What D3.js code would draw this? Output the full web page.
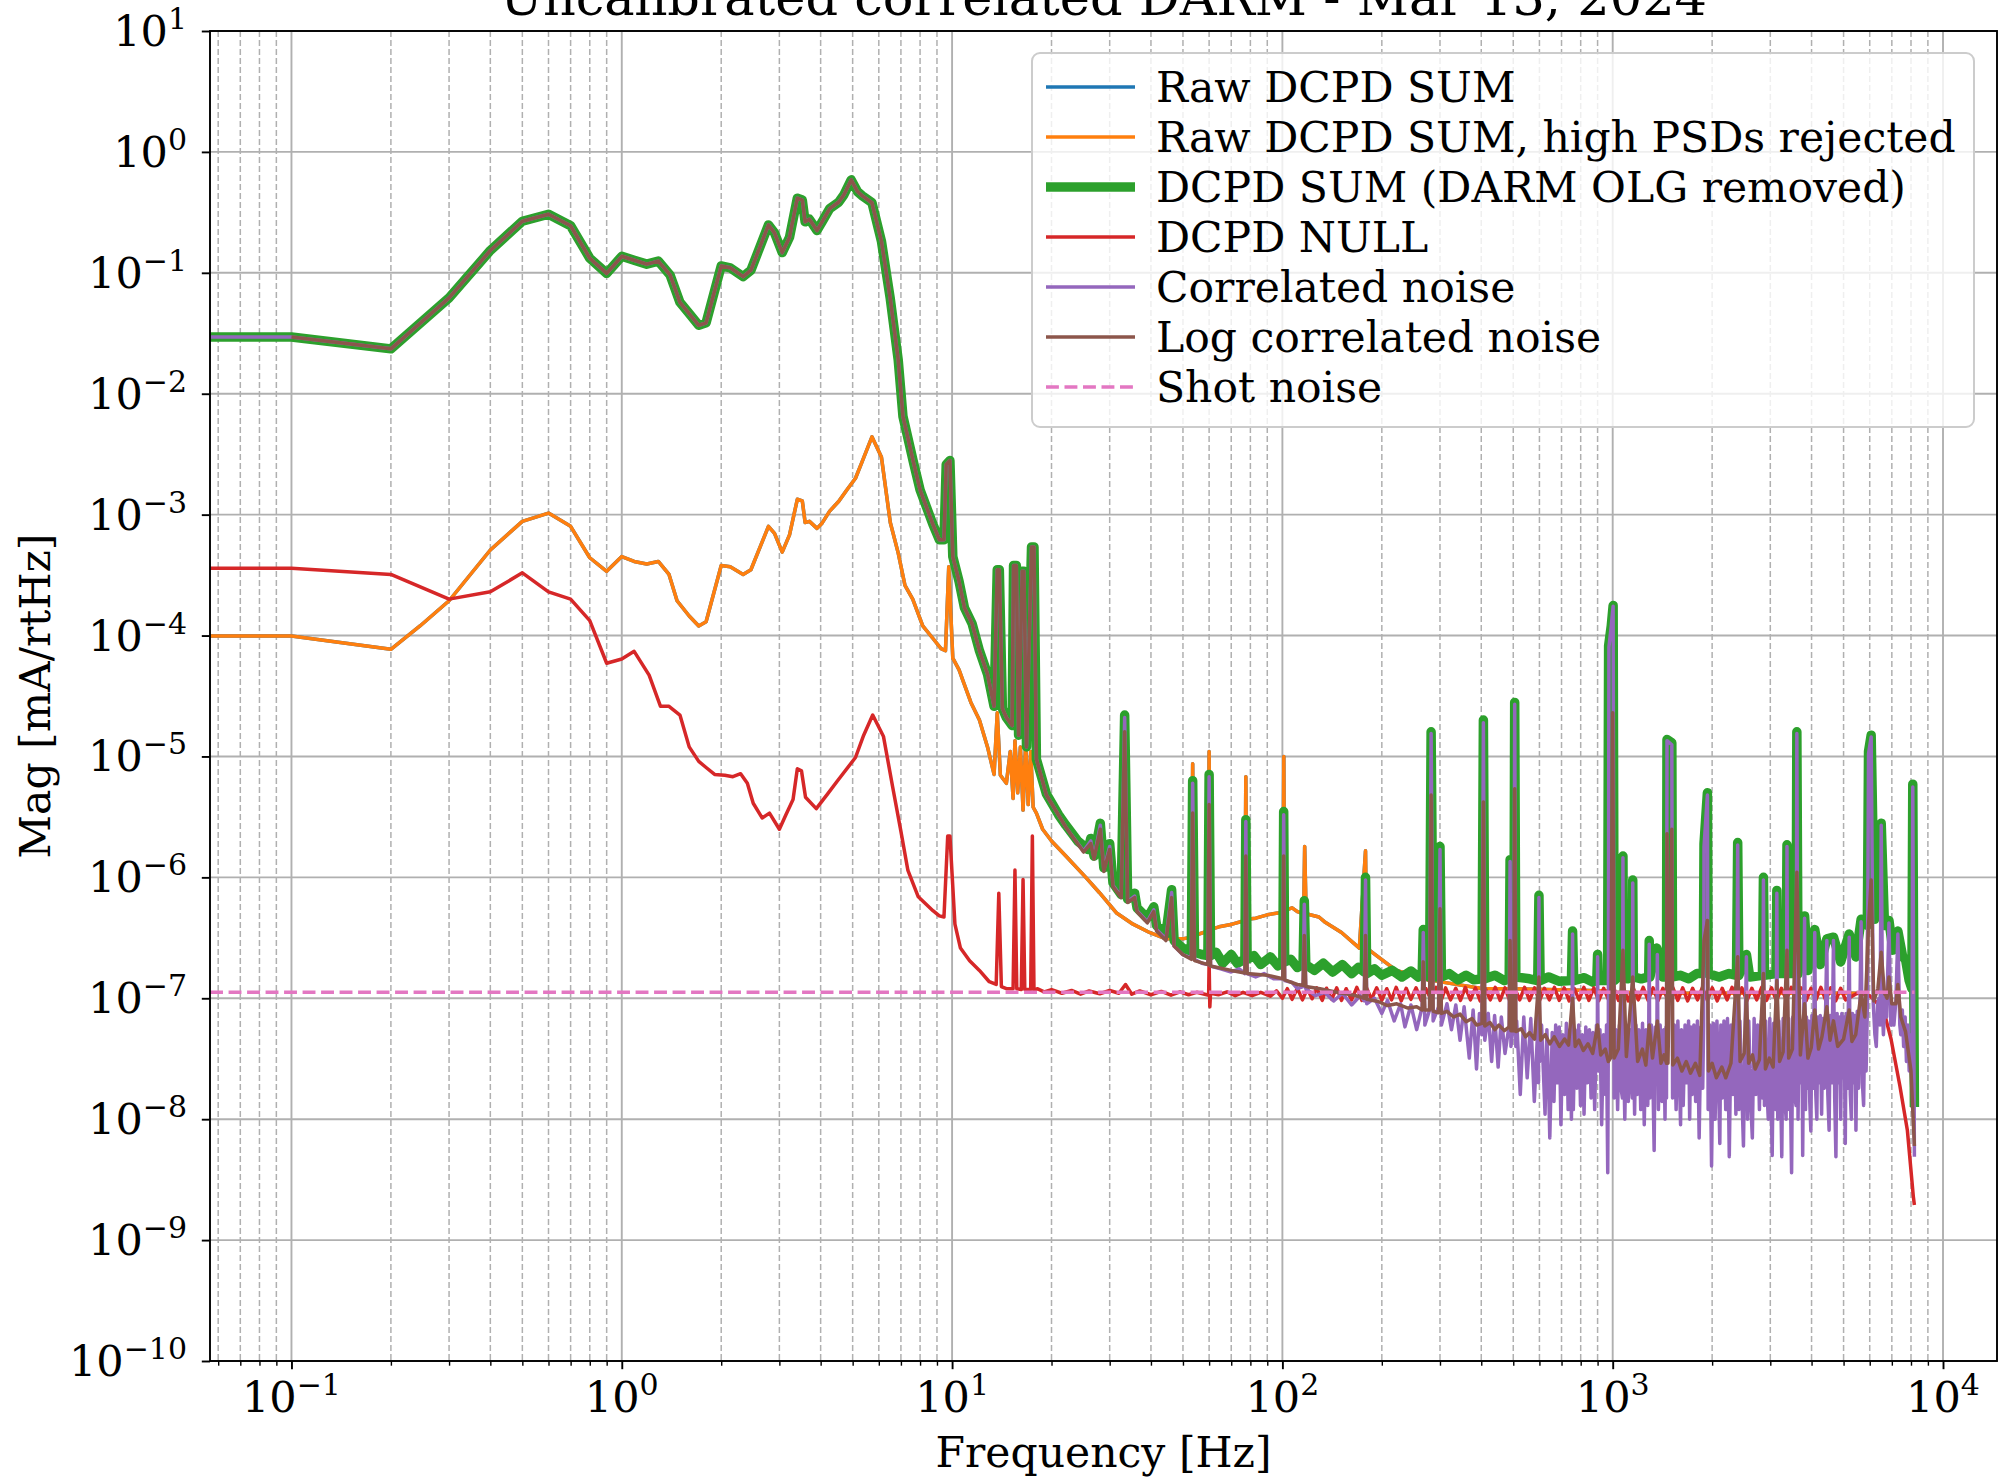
<!DOCTYPE html>
<html>
<head>
<meta charset="utf-8">
<title>Uncalibrated correlated DARM</title>
<script src="https://d3js.org/d3.v7.min.js"></script>
<style>
  body { margin: 0; background: #fff; }
  text { font-family: "DejaVu Serif", serif; fill: #000; }
  .grid-major line { stroke: #b0b0b0; stroke-width: 1.9; }
  .grid-minor line { stroke: #b0b0b0; stroke-width: 1.5; stroke-dasharray: 6,3; }
  .axis path { display: none; }
  .axis line { stroke: #000; }
  .series { fill: none; stroke-linejoin: round; }
</style>
</head>
<body>
<svg id="chart" width="1999" height="1477"></svg>
<script>
// ---- data: [frequency Hz, magnitude mA/rtHz] ----
var xTickExps = [-1, 0, 1, 2, 3, 4];
var yTickExps = [1, 0, -1, -2, -3, -4, -5, -6, -7, -8, -9, -10];

var seriesNames = ["Raw DCPD SUM", "Raw DCPD SUM, high PSDs rejected", "DCPD SUM (DARM OLG removed)",
                   "DCPD NULL", "Correlated noise", "Log correlated noise", "Shot noise"];

// DCPD SUM below ~18 Hz (shared by the correlated noise traces, which sit on it there)
var sumLow = [
  [0.0567,0.0295],[0.1,0.0295],[0.2,0.0235],[0.3,0.062],[0.4,0.153],[0.5,0.267],[0.6,0.305],
  [0.7,0.245],[0.8,0.132],[0.9,0.099],[1.0,0.137],[1.09,0.127],[1.19,0.118],[1.29,0.125],
  [1.4,0.096],[1.5,0.057],[1.6,0.046],[1.71,0.0368],[1.8,0.0386],[2.0,0.114],[2.13,0.11],
  [2.33,0.093],[2.46,0.105],[2.78,0.249],[2.9,0.214],[3.06,0.147],[3.22,0.197],[3.4,0.414],
  [3.52,0.40],[3.59,0.264],[3.7,0.277],[3.9,0.224],[4.04,0.264],[4.26,0.34],[4.54,0.385],
  [4.7,0.44],[4.95,0.587],[5.17,0.47],[5.35,0.433],[5.72,0.38],[6.11,0.183],[6.5,0.061],
  [6.87,0.019],[7.1,0.0065],[7.65,0.00267],[8.0,0.0016],[8.4,0.00112],[8.75,0.00083],
  [9.15,0.00062],[9.45,0.00062],[9.6,0.0026],[9.85,0.0028],[10.05,0.00045],[10.5,0.00028],
  [10.9,0.00017],[11.5,0.000125],[12.1,0.000075],[12.8,0.000048],[13.4,0.000026],
  [13.7,0.00035],[13.9,0.00035],[14.2,0.000025],[14.6,0.000021],[15.2,0.000018],
  [15.35,0.00038],[15.65,0.00038],[15.9,0.000015],[16.3,0.00034],[16.5,0.00034],
  [16.8,0.000012],[17.4,0.00054],[17.7,0.00054],[18.0,0.0000095]
];

var sumHigh = [
  [19.3,4.9e-6],[21,3.3e-6],[22.1,2.7e-6],[24,2.0e-6],[25.8,1.7e-6],[26.3,2.1e-6],[26.9,1.5e-6],
  [28.1,2.8e-6],[28.8,1.2e-6],[30,1.9e-6],[30.7,9.0e-7],[32.5,7.2e-7],[33.3,2.2e-5],[34,6.6e-7],
  [35.7,7.4e-7],[36.3,5.6e-7],[39,4.6e-7],[40.8,5.7e-7],[41.6,4.0e-7],[44.4,3.4e-7],[46.2,7.9e-7],
  [47,3.0e-7],[49.9,2.6e-7],[53,2.45e-7],[53.5,6.3e-6],[54.2,2.4e-7],[57,2.3e-7],[59.5,2.25e-7],
  [60,7.1e-6],[60.6,2.25e-7],[63,2.4e-7],[66,1.95e-7],[70,2.3e-7],[73,1.95e-7],[77,2.1e-7],
  [77.5,3.0e-6],[78.2,2.1e-7],[82,2.25e-7],[86,1.9e-7],[92,2.2e-7],[97,1.85e-7],[100.3,2.0e-7],
  [100.9,3.5e-6],[101.6,2.0e-7],[106,2.1e-7],[111,1.8e-7],[115.5,1.9e-7],[116.5,6.4e-7],
  [117.7,1.9e-7],[125,1.7e-7],[133,1.95e-7],[142,1.65e-7],[152,1.9e-7],[162,1.6e-7],[170,1.8e-7],
  [177,1.65e-7],[178.5,1.0e-6],[180,1.6e-7],[190,1.75e-7],[200,1.55e-7],[215,1.7e-7],[230,1.5e-7],
  [245,1.68e-7],[258,1.5e-7],[265,1.6e-7],[267,3.7e-7],[270,1.55e-7],[279,1.5e-7],[282,1.6e-5],
  [286,1.5e-7],[297,1.5e-7],[300,1.8e-6],[303,1.5e-7],[320,1.6e-7],[340,1.42e-7],[360,1.55e-7],
  [380,1.42e-7],[402,1.45e-7],[406,2.0e-5],[410,1.45e-7],[440,1.55e-7],[470,1.4e-7],[486,1.45e-7],
  [489,1.4e-6],[492,1.5e-7],[502,1.5e-7],[505,2.8e-5],[509,1.5e-7],[560,1.45e-7],[593,1.4e-7],
  [598,7.1e-7],[603,1.4e-7],[640,1.5e-7],[690,1.38e-7],[750,1.4e-7],[756,3.6e-7],[762,1.4e-7],
  [820,1.48e-7],[870,1.36e-7],[895,1.4e-7],[900,2.3e-7],[905,1.4e-7],[965,1.4e-7],[972,8.2e-5],
  [990,1.2e-4],[1003,1.77e-4],[1010,1.4e-7],[1040,1.5e-7],[1070,1.5e-7],[1074,1.5e-6],[1078,1.5e-7],
  [1110,1.45e-7],[1146,1.5e-7],[1150,9.5e-7],[1155,1.5e-7],[1220,1.45e-7],[1285,1.5e-7],
  [1290,3.0e-7],[1296,1.5e-7],[1360,2.6e-7],[1420,1.5e-7],[1455,1.5e-7],[1460,1.38e-5],
  [1510,1.3e-5],[1518,1.5e-7],[1600,1.55e-7],[1700,1.45e-7],[1800,1.6e-7],[1880,1.6e-7],
  [1890,1.9e-6],[1935,5.0e-6],[1945,1.6e-7],[2100,1.5e-7],[2250,1.6e-7],[2370,1.55e-7],
  [2390,1.94e-6],[2410,1.55e-7],[2540,2.3e-7],[2600,1.5e-7],[2840,1.55e-7],[2860,1.0e-6],
  [2880,1.55e-7],[3120,1.6e-7],[3140,7.8e-7],[3160,1.6e-7],[3350,1.6e-7],[3370,1.86e-6],
  [3390,1.6e-7],[3590,1.6e-7],[3610,1.6e-5],[3640,1.6e-7],[3810,4.8e-7],[3900,1.7e-7],
  [4090,3.7e-7],[4250,1.9e-7],[4450,3.1e-7],[4660,3.2e-7],[4900,2.0e-7],[5200,3.4e-7],
  [5450,2.2e-7],[5650,4.5e-7],[5900,4.0e-7],[5950,1.1e-5],[6060,1.5e-5],[6200,4.5e-7],
  [6500,2.8e-6],[6650,4.0e-7],[6860,4.4e-7],[7050,2.5e-7],[7300,3.6e-7],[7550,2.2e-7],
  [7700,2.1e-7],[7900,1.4e-7],[8050,1.2e-7],[8100,5.9e-6],[8192,1.26e-8]
];

var rawRejected = [
  [0.0567,9.9e-5],[0.1,9.9e-5],[0.2,7.7e-5],[0.245,1.2e-4],[0.3,1.94e-4],[0.4,5.1e-4],[0.5,8.8e-4],
  [0.6,1.03e-3],[0.7,8e-4],[0.8,4.4e-4],[0.9,3.4e-4],[1.0,4.5e-4],[1.09,4.1e-4],[1.19,3.9e-4],
  [1.29,4.1e-4],[1.39,3.2e-4],[1.47,1.94e-4],[1.6,1.45e-4],[1.71,1.2e-4],[1.8,1.3e-4],[2.0,3.8e-4],
  [2.13,3.7e-4],[2.33,3.2e-4],[2.46,3.5e-4],[2.78,8e-4],[2.9,7e-4],[3.06,4.9e-4],[3.22,6.8e-4],
  [3.4,1.34e-3],[3.52,1.3e-3],[3.59,8.6e-4],[3.7,8.8e-4],[3.9,7.7e-4],[4.04,8.5e-4],[4.26,1.07e-3],
  [4.54,1.29e-3],[4.8,1.6e-3],[5.1,2e-3],[5.35,2.77e-3],[5.72,4.4e-3],[6.11,3e-3],[6.5,8.6e-4],
  [6.87,4.8e-4],[7.2,2.6e-4],[7.6,2.0e-4],[8.15,1.2e-4],[8.74,9.5e-5],[9.26,7.8e-5],[9.55,7.5e-5],
  [9.77,3.7e-4],[10.05,6.5e-5],[10.5,5.2e-5],[10.8,4.2e-5],[11.4,2.8e-5],[12.1,2.0e-5],[12.8,1.2e-5],
  [13.4,7.1e-6],[13.7,2.3e-5],[14.0,7e-6],[14.6,6e-6],[15.0,1.1e-5],[15.3,4.5e-6],[15.5,1.35e-5],
  [15.8,5e-6],[16.1,1.2e-5],[16.4,3.6e-6],[16.7,1.3e-5],[17.0,4e-6],[17.3,1.1e-5],[17.6,3.8e-6],
  [18.0,3.4e-6],[18.8,2.5e-6],[20,2.0e-6],[22.1,1.5e-6],[25.4,1.0e-6],[27.9,7.5e-7],[31.4,5.1e-7],
  [35.3,4.1e-7],[39.6,3.5e-7],[44.4,3.1e-7],[49.9,3.1e-7],[53,3.2e-7],[53.5,8.7e-6],[54,3.3e-7],
  [55.9,3.4e-7],[59.6,3.6e-7],[60,1.1e-5],[60.4,3.7e-7],[64.3,3.9e-7],[70.5,4.1e-7],[77,4.4e-7],
  [77.5,6.8e-6],[78,4.5e-7],[83.1,4.6e-7],[90,4.9e-7],[97.8,5.1e-7],[100.5,5.2e-7],[101,1e-5],
  [101.5,5.3e-7],[107,5.6e-7],[111,5.2e-7],[116,5.0e-7],[116.8,1.8e-6],[118,5.0e-7],[129,4.7e-7],
  [134,4.3e-7],[151,3.5e-7],[171,2.6e-7],[178.5,1.66e-6],[180,2.6e-7],[195,2.2e-7],[221,1.7e-7],
  [250,1.55e-7],[279,1.4e-7],[282,1.5e-5],[286,1.4e-7],[406,1.2e-7],[505,1.2e-7],[1000,1.15e-7],
  [1003,1.7e-4],[1010,1.12e-7],[1460,1.1e-7],[3000,1.1e-7],[3600,1.1e-7],[3610,1.5e-5],
  [3640,1.1e-7],[5900,1.1e-7],[5950,1.1e-5],[6060,1.5e-5],[6200,4.5e-7],[6500,2.8e-6],
  [6650,4.0e-7],[6860,4.4e-7],[7050,2.5e-7],[7300,3.6e-7],[7550,2.2e-7],[7700,2.1e-7],
  [7900,1.4e-7],[8050,1.2e-7],[8100,5.9e-6],[8192,1.26e-8]
];
var rawSum = rawRejected.slice();

var dcpdNull = [
  [0.0567,3.6e-4],[0.1,3.6e-4],[0.2,3.2e-4],[0.3,2.0e-4],[0.4,2.3e-4],[0.5,3.3e-4],[0.6,2.3e-4],
  [0.7,2.0e-4],[0.8,1.33e-4],[0.9,5.9e-5],[1.0,6.4e-5],[1.09,7.4e-5],[1.21,4.7e-5],[1.31,2.6e-5],
  [1.39,2.6e-5],[1.5,2.2e-5],[1.6,1.2e-5],[1.71,9.1e-6],[1.8,8.1e-6],[1.91,7.1e-6],[2.05,7e-6],
  [2.17,6.8e-6],[2.29,7.2e-6],[2.4,6e-6],[2.5,4.1e-6],[2.66,3.1e-6],[2.8,3.4e-6],[3.0,2.5e-6],
  [3.14,3.3e-6],[3.3,4.4e-6],[3.4,7.9e-6],[3.5,7.6e-6],[3.6,4.6e-6],[3.88,3.7e-6],[4.2,4.9e-6],
  [4.5,6.3e-6],[5.1,9.8e-6],[5.4,1.5e-5],[5.75,2.2e-5],[6.2,1.46e-5],[6.6,5.7e-6],[7.0,2.4e-6],
  [7.35,1.14e-6],[7.9,6.9e-7],[8.75,5.3e-7],[9.15,4.8e-7],[9.45,4.7e-7],[9.7,2.2e-6],[9.85,2.2e-6],
  [10.2,4.1e-7],[10.6,2.6e-7],[11.3,2.04e-7],[12.1,1.7e-7],[12.96,1.37e-7],[13.6,1.3e-7],
  [13.85,7.4e-7],[14.1,1.25e-7],[14.6,1.2e-7],[15.3,1.2e-7],[15.5,1.15e-6],[15.7,1.2e-7],
  [16.2,1.18e-7],[16.4,9.6e-7],[16.6,1.18e-7],[17.3,1.18e-7],[17.5,2.2e-6],[17.7,1.15e-7],
  [18.1,1.2e-7],[19,1.13e-7],[20,1.18e-7],[21.5,1.1e-7],[23,1.16e-7],[24.5,1.08e-7],[26,1.15e-7],
  [28,1.09e-7],[30,1.16e-7],[32,1.1e-7],[33.5,1.3e-7],[35,1.08e-7],[37,1.15e-7],[40,1.07e-7],
  [43,1.14e-7],[46,1.06e-7],[49,1.13e-7],[52,1.07e-7],[55,1.12e-7],[59.8,1.06e-7],[60,2e-7],
  [60.3,8.5e-8],[60.6,1.1e-7],[64,1.07e-7],[68,1.13e-7],[72,1.05e-7],[76,1.12e-7],[81,1.05e-7],
  [86,1.12e-7],[92,1.04e-7],[96,1.15e-7],
  [100,1.0e-7],[103.5,1.2e-7],[107,9.8e-8],[111,1.21e-7],[115,9.7e-8],[119,1.2e-7],[123,9.9e-8],
  [127,1.22e-7],[132,9.6e-8],[136,1.21e-7],[141,9.8e-8],[146,1.22e-7],[151,9.6e-8],[156,1.2e-7],
  [162,9.7e-8],[168,1.23e-7],[174,9.6e-8],[180,1.21e-7],[186,9.8e-8],[193,1.22e-7],[200,9.6e-8],
  [207,1.2e-7],[214,9.7e-8],[221,1.23e-7],[229,9.5e-8],[237,1.21e-7],[245,9.8e-8],[254,1.22e-7],
  [263,9.6e-8],[272,1.2e-7],[282,9.7e-8],[292,1.23e-7],[302,9.5e-8],[312,1.22e-7],[323,9.7e-8],
  [335,1.21e-7],[346,9.6e-8],[358,1.23e-7],[371,9.7e-8],[384,1.22e-7],[397,9.5e-8],[411,1.21e-7],
  [426,9.7e-8],[441,1.23e-7],[456,9.6e-8],[472,1.22e-7],[488,9.5e-8],[505,1.21e-7],[523,9.7e-8],
  [541,1.23e-7],[560,9.6e-8],[580,1.22e-7],[600,9.5e-8],[621,1.21e-7],[643,9.7e-8],[666,1.23e-7],
  [689,9.6e-8],[713,1.22e-7],[738,9.5e-8],[764,1.21e-7],[791,9.7e-8],[818,1.23e-7],[847,9.6e-8],
  [877,1.22e-7],[907,9.5e-8],[939,1.21e-7],[972,9.7e-8],[1006,1.23e-7],[1041,9.6e-8],[1078,1.22e-7],
  [1115,9.5e-8],[1154,1.21e-7],[1195,9.7e-8],[1237,1.23e-7],[1280,9.6e-8],[1325,1.22e-7],
  [1371,9.5e-8],[1419,1.21e-7],[1469,9.7e-8],[1520,1.23e-7],[1574,9.6e-8],[1629,1.22e-7],
  [1686,9.5e-8],[1745,1.21e-7],[1806,9.7e-8],[1869,1.23e-7],[1935,9.6e-8],[2002,1.22e-7],
  [2072,9.5e-8],[2145,1.21e-7],[2220,9.7e-8],[2298,1.23e-7],[2378,9.6e-8],[2461,1.22e-7],
  [2548,9.5e-8],[2637,1.21e-7],[2729,9.7e-8],[2825,1.23e-7],[2923,9.6e-8],[3026,1.22e-7],
  [3132,9.5e-8],[3241,1.21e-7],[3355,9.7e-8],[3472,1.23e-7],[3594,9.6e-8],[3719,1.22e-7],
  [3849,9.5e-8],[3984,1.21e-7],[4124,9.7e-8],[4268,1.23e-7],[4417,9.6e-8],[4572,1.22e-7],
  [4732,9.5e-8],[4898,1.21e-7],[5069,9.7e-8],[5500,1.1e-7],[6000,1.05e-7],
  [6600,8.1e-8],[6960,4.6e-8],[7400,1.9e-8],[7800,8.1e-9],[8130,2.3e-9],[8192,1.95e-9]
];

var corrHigh = [
  [19.3,4.8e-6],[22.1,2.6e-6],[25,1.65e-6],[26.3,2.0e-6],[26.9,1.45e-6],[28.1,2.7e-6],[28.8,1.15e-6],
  [30,1.8e-6],[30.7,8.6e-7],[32.5,6.9e-7],[33.3,2.1e-5],[34,6.3e-7],[35.7,7.0e-7],[36.3,5.3e-7],
  [39,4.3e-7],[40.8,5.4e-7],[41.6,3.7e-7],[44.4,3.1e-7],[46.2,7.5e-7],[47,2.7e-7],[49.9,2.3e-7],
  [53,2.15e-7],[53.5,6.0e-6],[54.2,2.1e-7],[57,1.95e-7],[59.5,1.9e-7],[60,6.8e-6],[60.6,1.85e-7],
  [65,1.75e-7],[70,1.65e-7],[74,1.75e-7],[77,1.6e-7],[77.5,2.9e-6],[78.2,1.6e-7],[83,1.5e-7],
  [88,1.6e-7],[94,1.45e-7],[100.3,1.45e-7],[100.9,3.3e-6],[101.6,1.4e-7],[107,1.35e-7],[111,1.2e-7],
  [115.5,1.25e-7],[116.5,6.0e-7],[117.7,1.2e-7],[126,1.05e-7],[134,1.12e-7],[143,9.5e-8],
  [152,1.1e-7],[162,8.8e-8],[172,1.05e-7],[177,9.5e-8],[178.5,9.5e-7],[180,9e-8],[190,1.0e-7],
  [200,7.5e-8],[208,9.6e-8],[218,6.5e-8],[228,9e-8],[235,5.8e-8],[245,8.8e-8],[255,5.5e-8],
  [265,8.5e-8],[267,3.5e-7],[270,6e-8],[279,8e-8],[282,1.55e-5],[286,6.5e-8],[297,8.5e-8],
  [300,1.7e-6],[303,6e-8],[315,9e-8],[325,5.5e-8],[335,8.8e-8],[345,4.5e-8],[355,8.5e-8],
  [368,3.2e-8],[378,8e-8],[387,2.6e-8],[395,7.5e-8],[402,5e-8],[406,1.9e-5],[410,4.5e-8],
  [420,7.5e-8],[430,3e-8],[439,7.2e-8],[450,2.7e-8],[460,7e-8],[472,3.5e-8],[486,6e-8],
  [489,1.35e-6],[492,4e-8],[502,6.5e-8],[505,2.7e-5],
  [509,4e-8],[512,6.5e-8],[525,1.6e-8],[538,7e-8],[551,2.2e-8],[565,6.8e-8],[579,1.4e-8],[594,6.2e-8],
  [596,2e-8],[598,6.8e-7],[601,3e-8],[609,6e-8],[624,1.1e-8],[632,5.5e-8],[640,1.8e-8],[645,7e-9],
  [656,5.2e-8],[664,1.4e-8],[672,6e-8],[680,2e-8],[689,5.8e-8],[697,9e-9],[706,5e-8],[715,1.6e-8],
  [724,6.2e-8],[733,1.2e-8],[742,5.5e-8],[750,1.0e-8],[753,5e-8],[756,3.4e-7],[760,1.2e-8],
  [769,5.5e-8],[779,1.8e-8],[789,6e-8],[799,1.3e-8],[809,5e-8],[819,1.1e-8],[829,5.8e-8],[839,2e-8],
  [850,5.5e-8],[860,1.5e-8],[871,5.2e-8],[882,1.2e-8],[893,6e-8],[898,3e-8],[900,2.2e-7],
  [904,2.5e-8],[915,5.5e-8],[926,9e-9],[938,5e-8],[950,1.6e-8],[958,6e-8],[962,1.2e-8],
  [966,3.6e-9],[970,5e-8],[974,8e-5],[990,1.2e-4],[1003,1.75e-4],[1010,1.5e-8],[1023,5.5e-8],
  [1035,1.2e-8],[1048,6e-8],[1060,1.8e-8],[1070,1.5e-8],[1074,1.45e-6],[1078,4e-8],[1088,1.0e-8],
  [1101,6e-8],[1115,1.4e-8],[1129,5.5e-8],[1140,2e-8],[1146,1.5e-8],[1150,9e-7],[1155,4.5e-8],
  [1165,1.1e-8],[1176,6e-8],[1186,1.6e-8],[1200,5.5e-8],[1216,1.2e-8],[1231,6.2e-8],[1246,9e-9],
  [1261,5.5e-8],[1277,1.3e-8],[1285,4.5e-8],[1290,2.8e-7],[1296,1.5e-8],[1309,6e-8],[1325,1.8e-8],
  [1335,5.5e-9],[1345,5.8e-8],[1358,2e-8],[1365,2.3e-7],[1375,1.2e-8],[1392,6e-8],[1410,1.4e-8],
  [1427,5.5e-8],[1440,1.0e-8],[1450,5.8e-8],[1455,1.5e-8],[1460,1.35e-5],[1510,1.25e-5],
  [1518,1.5e-8],[1537,6e-8],[1556,1.2e-8],[1575,6.5e-8],[1595,1.8e-8],[1605,9e-9],[1615,5.5e-8],
  [1635,1.3e-8],[1656,6e-8],[1676,2e-8],[1697,6.5e-8],[1710,1.0e-8],[1725,5.8e-8],[1740,1.6e-8],
  [1761,6e-8],[1783,1.4e-8],[1805,6.5e-8],[1827,7e-9],[1850,5.8e-8],[1873,1.8e-8],[1885,6e-8],
  [1890,1.8e-6],[1935,4.8e-6],[1945,1.2e-8],[1968,6e-8],[1992,4.1e-9],[2017,6.2e-8],[2042,1.0e-8],
  [2068,6.5e-8],[2093,1.8e-8],[2110,6.3e-9],[2125,6e-8],[2146,1.5e-8],[2172,6.5e-8],[2199,1.2e-8],
  [2226,6.8e-8],[2254,4.9e-9],[2282,6e-8],[2311,1.6e-8],[2340,6.5e-8],[2360,1.1e-8],[2375,5e-8],
  [2390,1.85e-6],[2410,1.2e-8],[2428,6.5e-8],[2458,1.8e-8],[2488,6e-9],[2519,6.2e-8],[2540,2.2e-7],
  [2560,1.0e-8],[2582,6.5e-8],[2614,1.5e-8],[2647,7e-9],[2680,6.8e-8],[2713,1.6e-8],[2747,6e-8],
  [2781,1.2e-8],[2815,6.5e-8],[2840,1.5e-8],[2860,9.5e-7],[2880,1.3e-8],[2905,6.5e-8],[2930,1.8e-8],
  [2958,1e-8],[2990,6.8e-8],[3015,1.6e-8],[3040,5e-9],[3070,6.2e-8],[3095,1.4e-8],[3120,1.2e-8],
  [3140,7.4e-7],[3160,1.0e-8],[3185,6.5e-8],[3225,1.7e-8],[3250,4.9e-9],[3280,6.8e-8],[3320,1.5e-8],
  [3350,1.0e-8],[3370,1.8e-6],[3390,1.2e-8],[3410,6.8e-8],[3450,1.8e-8],[3480,3.6e-9],[3510,7e-8],
  [3550,1.6e-8],[3590,1.3e-8],[3610,1.55e-5],[3640,1.0e-8],[3670,7e-8],[3700,2e-8],[3740,6.5e-8],
  [3760,5e-9],[3786,6.8e-8],[3810,4.6e-7],[3835,1.2e-8],[3860,7e-8],[3890,1.8e-8],[3920,6.5e-8],
  [3950,1.4e-8],[3980,8e-9],[4010,7.2e-8],[4040,1.8e-8],[4065,6.5e-8],[4090,3.5e-7],[4120,1.6e-8],
  [4150,1.0e-8],[4180,7e-8],[4220,2e-8],[4250,7.2e-8],[4290,1.1e-8],[4330,6.8e-8],[4370,1.8e-8],
  [4410,7.5e-8],[4450,3.0e-7],[4480,1.6e-8],[4520,8.1e-9],[4560,7.2e-8],[4600,2e-8],[4630,7e-8],
  [4660,3.0e-7],[4700,1.5e-8],[4740,4.9e-9],[4780,7.5e-8],[4820,2e-8],[4860,7e-8],[4900,1.0e-8],
  [4940,7.5e-8],[4980,2.2e-8],[5020,7e-8],[5060,6.3e-9],[5093,7.5e-8],[5130,1.8e-8],[5165,7e-8],
  [5200,3.2e-7],[5240,1.6e-8],[5280,1.0e-8],[5320,7.5e-8],[5370,2e-8],[5410,7.2e-8],[5450,8.1e-9],
  [5500,7.8e-8],[5550,1.8e-8],[5600,7.5e-8],[5650,4.3e-7],[5700,2e-8],[5750,1.3e-8],[5800,8e-8],
  [5850,2.5e-8],[5900,8e-8],[5950,1.05e-5],[6060,1.45e-5],[6150,9e-8],[6220,5e-8],[6280,4e-8],
  [6340,9e-8],[6400,1.0e-7],[6450,6e-8],[6500,2.7e-6],[6560,8e-8],[6600,5e-8],[6680,1e-7],
  [6750,7e-8],[6860,4.2e-7],[6950,6e-8],[7020,9e-8],[7100,6e-8],[7200,9.5e-8],[7300,3.4e-7],
  [7400,6e-8],[7450,5e-8],[7530,8e-8],[7600,4e-8],[7680,7e-8],[7750,3e-8],[7830,6e-8],[7900,2.5e-8],
  [7980,5e-8],[8050,2e-8],[8100,5.6e-6],[8192,4.9e-9]
];

var logCorrHigh = [
  [19.3,4.8e-6],[22.1,2.6e-6],[25,1.62e-6],[26.3,1.9e-6],[26.9,1.42e-6],[28.1,2.5e-6],[28.8,1.12e-6],
  [30,1.7e-6],[30.7,8.4e-7],[32.5,6.8e-7],[33.3,1.6e-5],[34,6.2e-7],[35.7,6.8e-7],[36.3,5.2e-7],
  [39,4.2e-7],[40.8,5.2e-7],[41.6,3.6e-7],[44.4,3.0e-7],[46.2,6.8e-7],[47,2.7e-7],[49.9,2.3e-7],
  [53,2.1e-7],[53.5,3.4e-6],[54.2,2.05e-7],[59.5,1.9e-7],[60,4.0e-6],[60.6,1.85e-7],[70,1.7e-7],
  [77,1.62e-7],[77.5,1.5e-6],[78.2,1.6e-7],[90,1.55e-7],[100.3,1.45e-7],[100.9,1.5e-6],
  [101.6,1.42e-7],[111,1.3e-7],[115.5,1.28e-7],[116.5,3.3e-7],[117.7,1.25e-7],[130,1.2e-7],
  [140,1.15e-7],[152,1.1e-7],[165,1.06e-7],[177,1.0e-7],[178.5,3.3e-7],[180,9.8e-8],[195,9.4e-8],
  [208,8.7e-8],[222,9.0e-8],[240,8.3e-8],[255,8.5e-8],[265,8.0e-8],[267,2e-7],[270,8e-8],[279,8e-8],
  [282,4.8e-6],[286,7.8e-8],[297,7.6e-8],[300,5.5e-7],[303,7.5e-8],[315,7.8e-8],[330,7.0e-8],
  [345,7.4e-8],[360,6.4e-8],[375,6.8e-8],[387,6.0e-8],[402,6.2e-8],[406,4.2e-6],[410,5.9e-8],
  [425,6.3e-8],[440,5.5e-8],[452,6.0e-8],[470,5.4e-8],[486,5.8e-8],[489,3e-7],[492,5.4e-8],
  [502,5.4e-8],[505,5.4e-6],[509,5.3e-8],[528,5.6e-8],[545,4.8e-8],[560,5.2e-8],[580,4.6e-8],
  [598,1.5e-7],[605,4.5e-8],[625,5.0e-8],[645,4.2e-8],[665,4.8e-8],[690,4.0e-8],[715,4.6e-8],
  [735,4.1e-8],[756,1.0e-7],[770,4.0e-8],[790,4.5e-8],[815,3.7e-8],[842,4.2e-8],[870,3.5e-8],
  [900,6e-8],[920,3.4e-8],[950,3.8e-8],[970,3.0e-8],[985,3.2e-8],[1000,2.3e-5],[1010,3.2e-8],
  [1040,3.8e-8],[1074,2.5e-7],[1100,3.3e-8],[1150,1.5e-7],[1190,3.0e-8],[1230,3.8e-8],[1260,2.8e-8],
  [1290,6e-8],[1320,3.2e-8],[1365,6.5e-8],[1400,2.9e-8],[1430,3.4e-8],[1455,2.9e-8],[1460,2.3e-6],
  [1470,2.9e-8],[1510,2.5e-6],[1520,2.8e-8],[1570,3.2e-8],[1620,2.5e-8],[1670,3.0e-8],[1720,2.4e-8],
  [1780,2.9e-8],[1835,2.3e-8],[1890,3e-7],[1935,4.4e-7],[1950,2.5e-8],[2000,2.9e-8],[2060,2.2e-8],
  [2140,2.7e-8],[2200,2.2e-8],[2280,2.9e-8],[2390,2.2e-7],[2430,3.0e-8],[2500,3.5e-8],[2540,1.1e-7],
  [2580,2.9e-8],[2650,3.4e-8],[2700,2.6e-8],[2780,3.1e-8],[2860,1.6e-7],[2900,2.6e-8],[2980,3.2e-8],
  [3060,2.7e-8],[3140,1.4e-7],[3200,3.0e-8],[3280,3.6e-8],[3370,2.5e-7],[3410,3.2e-8],[3500,3.8e-8],
  [3610,1.1e-6],[3700,3.4e-8],[3810,9e-8],[3900,3.2e-8],[3990,3.9e-8],[4090,8e-8],[4200,3.8e-8],
  [4300,4.8e-8],[4450,8.5e-8],[4550,4.5e-8],[4660,6.5e-8],[4800,4.0e-8],[5000,4.6e-8],[5200,8e-8],
  [5300,4.4e-8],[5440,5.0e-8],[5650,1.1e-7],[5800,7e-8],[5950,4e-7],[6060,9.5e-7],[6170,9.5e-8],
  [6350,1.2e-7],[6500,2.4e-7],[6650,1.1e-7],[6770,1.0e-7],[6860,1.5e-7],[7000,9e-8],[7200,9e-8],
  [7300,1.3e-7],[7450,7e-8],[7700,5.3e-8],[8000,2.5e-8],[8192,6e-9]
];

var shotNoise = [[0.0567,1.12e-7],[8192,1.12e-7]];

var dcpdSum = sumLow.concat(sumHigh);
var corrNoise = sumLow.concat(corrHigh);
var logCorrNoise = sumLow.filter(function(d) { return d[0] >= 0.1; }).concat(logCorrHigh);

var colors = ["#1f77b4", "#ff7f0e", "#2ca02c", "#d62728", "#9467bd", "#8c564b", "#e377c2"];
var widths = [3.5, 3.5, 9.5, 3.5, 3.5, 3.5, 3.5];
var seriesData = [rawSum, rawRejected, dcpdSum, dcpdNull, corrNoise, logCorrNoise, shotNoise];

// ---- layout ----
var svg = d3.select("#chart");
var plotL = 210, plotR = 1997, plotT = 31, plotB = 1361;

svg.append("rect").attr("width", 1999).attr("height", 1477).attr("fill", "#fff");

var x = d3.scaleLog().domain([0.05667, 14570]).range([plotL, plotR]);
var y = d3.scaleLog().domain([1e-10, 10]).range([plotB, plotT]);

var xMajor = xTickExps.map(function(e) { return Math.pow(10, e); });
var xMinor = [];
for (var e = -2; e <= 3; e++) {
  for (var m = 2; m <= 9; m++) {
    var v = m * Math.pow(10, e);
    if (v > 0.05667 && v < 14570) xMinor.push(v);
  }
}
var yMajor = yTickExps.map(function(e) { return Math.pow(10, e); });

// grid
svg.append("g").attr("class", "grid-minor")
  .selectAll("line").data(xMinor).enter().append("line")
  .attr("x1", function(d) { return x(d); }).attr("x2", function(d) { return x(d); })
  .attr("y1", plotT).attr("y2", plotB);
var gMaj = svg.append("g").attr("class", "grid-major");
gMaj.selectAll(".vx").data(xMajor).enter().append("line")
  .attr("x1", function(d) { return x(d); }).attr("x2", function(d) { return x(d); })
  .attr("y1", plotT).attr("y2", plotB);
gMaj.selectAll(".hy").data(yMajor).enter().append("line")
  .attr("x1", plotL).attr("x2", plotR)
  .attr("y1", function(d) { return y(d); }).attr("y2", function(d) { return y(d); });

// lines
svg.append("clipPath").attr("id", "plotclip").append("rect")
  .attr("x", plotL).attr("y", plotT).attr("width", plotR - plotL).attr("height", plotB - plotT);

var line = d3.line()
  .x(function(d) { return x(d[0]); })
  .y(function(d) { return y(d[1]); });

var plot = svg.append("g").attr("clip-path", "url(#plotclip)");
seriesData.forEach(function(data, i) {
  plot.append("path")
    .attr("class", "series")
    .attr("d", line(data))
    .attr("stroke", colors[i])
    .attr("stroke-width", widths[i])
    .attr("stroke-dasharray", i == 6 ? "12.9,5.6" : null);
});

// axes
svg.append("g").attr("class", "axis")
  .attr("transform", "translate(0," + plotB + ")")
  .call(d3.axisBottom(x).tickValues(xMinor).tickSize(4.7).tickFormat(""))
  .selectAll("line").attr("stroke-width", 1.4);
svg.append("g").attr("class", "axis")
  .attr("transform", "translate(0," + plotB + ")")
  .call(d3.axisBottom(x).tickValues(xMajor).tickSize(8.2).tickFormat(""))
  .selectAll("line").attr("stroke-width", 1.9);
svg.append("g").attr("class", "axis")
  .attr("transform", "translate(" + plotL + ",0)")
  .call(d3.axisLeft(y).tickValues(yMajor).tickSize(8.2).tickFormat(""))
  .selectAll("line").attr("stroke-width", 1.9);

svg.append("rect")
  .attr("x", plotL).attr("y", plotT).attr("width", plotR - plotL).attr("height", plotB - plotT)
  .attr("fill", "none").attr("stroke", "#000").attr("stroke-width", 1.9);

function powLabel(sel, exp) {
  sel.append("tspan").text("10");
  sel.append("tspan").attr("dy", -17).attr("font-size", 30)
    .text(exp < 0 ? "\u2212" + (-exp) : String(exp));
}

xTickExps.forEach(function(e) {
  var t = svg.append("text")
    .attr("x", x(Math.pow(10, e))).attr("y", 1412)
    .attr("text-anchor", "middle").attr("font-size", 43);
  powLabel(t, e);
});
yTickExps.forEach(function(e) {
  var t = svg.append("text")
    .attr("x", 187).attr("y", y(Math.pow(10, e)) + 15)
    .attr("text-anchor", "end").attr("font-size", 43);
  powLabel(t, e);
});

// labels
svg.append("text").attr("x", (plotL + plotR) / 2).attr("y", 15)
  .attr("text-anchor", "middle").attr("font-size", 51)
  .text("Uncalibrated correlated DARM - Mar 13, 2024");
svg.append("text").attr("x", (plotL + plotR) / 2).attr("y", 1467)
  .attr("text-anchor", "middle").attr("font-size", 42.5)
  .text("Frequency [Hz]");
svg.append("text").attr("transform", "translate(50," + ((plotT + plotB) / 2) + ") rotate(-90)")
  .attr("text-anchor", "middle").attr("font-size", 42.5)
  .text("Mag [mA/rtHz]");

// legend
var lg = svg.append("g");
lg.append("rect")
  .attr("x", 1032).attr("y", 53).attr("width", 942).attr("height", 374)
  .attr("rx", 8).attr("fill", "#fff").attr("fill-opacity", 0.8)
  .attr("stroke", "#cccccc").attr("stroke-width", 2);
seriesNames.forEach(function(name, i) {
  var cy = 87 + i * 50;
  lg.append("line")
    .attr("x1", 1046).attr("x2", 1135).attr("y1", cy).attr("y2", cy)
    .attr("stroke", colors[i]).attr("stroke-width", widths[i])
    .attr("stroke-dasharray", i == 6 ? "12.9,5.6" : null);
  lg.append("text").attr("x", 1156).attr("y", cy + 15)
    .attr("font-size", 42.5).text(name);
});
</script>
</body>
</html>
